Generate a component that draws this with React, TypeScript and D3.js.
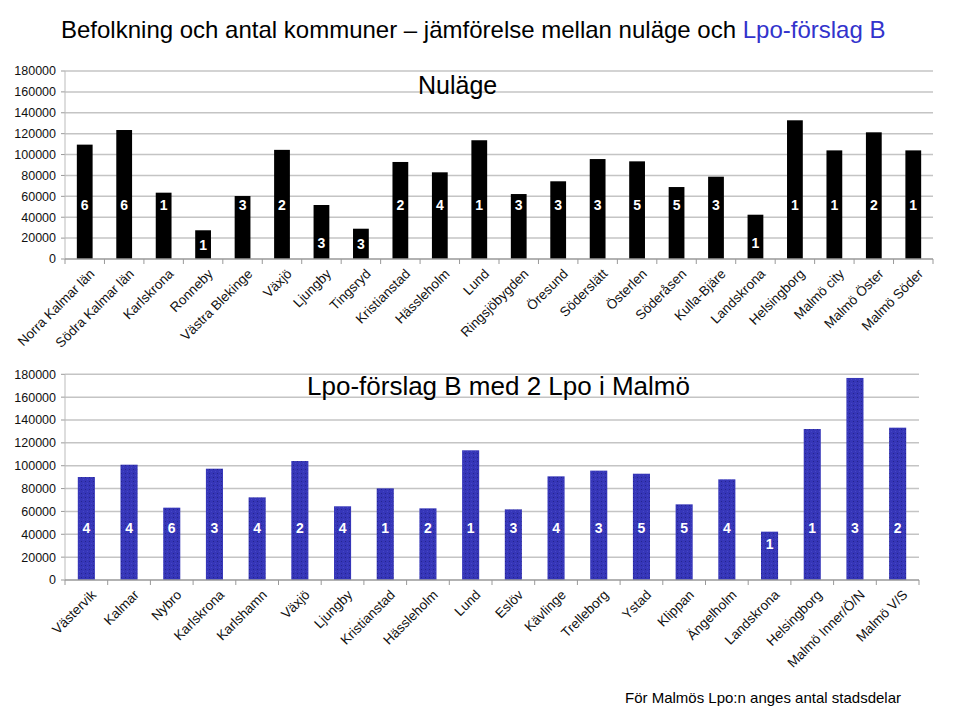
import React from "react";
import * as d3 from "d3";

const topCategories = ["Norra Kalmar län", "Södra Kalmar län", "Karlskrona", "Ronneby", "Västra Blekinge", "Växjö", "Ljungby", "Tingsryd", "Kristianstad", "Hässleholm", "Lund", "Ringsjöbygden", "Öresund", "Söderslätt", "Österlen", "Söderåsen", "Kulla-Bjäre", "Landskrona", "Helsingborg", "Malmö city", "Malmö Öster", "Malmö Söder"];
const topValues = [109500, 123500, 63500, 27500, 60300, 104500, 51700, 29000, 92900, 83000, 113700, 62200, 74400, 95700, 93500, 68900, 78800, 42400, 132800, 104000, 121300, 104000];
const topCounts = [6, 6, 1, 1, 3, 2, 3, 3, 2, 4, 1, 3, 3, 3, 5, 5, 3, 1, 1, 1, 2, 1];

const bottomCategories = ["Västervik", "Kalmar", "Nybro", "Karlskrona", "Karlshamn", "Växjö", "Ljungby", "Kristianstad", "Hässleholm", "Lund", "Eslöv", "Kävlinge", "Trelleborg", "Ystad", "Klippan", "Ängelholm", "Landskrona", "Helsingborg", "Malmö Inner/Ö/N", "Malmö V/S"];
const bottomValues = [90100, 100900, 63300, 97400, 72300, 104100, 64500, 80200, 62700, 113500, 61800, 90700, 95700, 93000, 66200, 88100, 42300, 132100, 176800, 133300];
const bottomCounts = [4, 4, 6, 3, 4, 2, 4, 1, 2, 1, 3, 4, 3, 5, 5, 4, 1, 1, 3, 2];

const yTicks = [0, 20000, 40000, 60000, 80000, 100000, 120000, 140000, 160000, 180000];

const FONT = "'Liberation Sans', Arial, sans-serif";

type PanelProps = {
  categories: string[];
  values: number[];
  counts: number[];
  x0: number;
  x1: number;
  yTop: number;
  yBottom: number;
  fill: string;
  labelValue: (v: number) => number;
};

function Panel({ categories, values, counts, x0, x1, yTop, yBottom, fill, labelValue }: PanelProps) {
  const x = d3.scaleBand<string>().domain(categories).range([x0, x1]).paddingInner(0.6).paddingOuter(0.3);
  const xb = d3.scaleBand<string>().domain(categories).range([x0, x1]).padding(0);
  const y = d3.scaleLinear().domain([0, 180000]).range([yBottom, yTop]);
  return (
    <g>
      {yTicks.map((t) => (
        <g key={t}>
          {t > 0 && (
            <line x1={x0} x2={x1} y1={y(t)} y2={y(t)} stroke="#c4c4c4" strokeWidth={1.5} />
          )}
          <line x1={x0 - 4} x2={x0} y1={y(t)} y2={y(t)} stroke="#999" strokeWidth={1} />
          <text x={x0 - 9} y={y(t)} dy="0.35em" textAnchor="end" fontSize={12.5} fill="#111" fontFamily={FONT}>
            {t}
          </text>
        </g>
      ))}
      <line x1={x0} x2={x0} y1={yTop} y2={yBottom} stroke="#bbb" strokeWidth={1} />
      {values.map((v, i) => {
        const c = categories[i];
        const bx = x(c)!;
        const bw = x.bandwidth();
        return (
          <g key={c}>
            <rect x={bx} y={y(v)} width={bw} height={yBottom - y(v)} fill={fill} />
            <text
              x={bx + bw / 2}
              y={y(labelValue(v))}
              dy="0.35em"
              textAnchor="middle"
              fontSize={14}
              fontWeight="bold"
              fill="#fff"
              fontFamily={FONT}
            >
              {counts[i]}
            </text>
          </g>
        );
      })}
      <line x1={x0} x2={x1} y1={yBottom} y2={yBottom} stroke="#999" strokeWidth={1.5} />
      {categories.map((c) => (
        <line key={"t" + c} x1={xb(c)!} x2={xb(c)!} y1={yBottom} y2={yBottom + 5} stroke="#999" strokeWidth={1} />
      ))}
      <line x1={x1} x2={x1} y1={yBottom} y2={yBottom + 5} stroke="#999" strokeWidth={1} />
      {categories.map((c) => {
        const cx = xb(c)! + xb.bandwidth() / 2;
        return (
          <text
            key={"l" + c}
            transform={`translate(${cx + 4},${yBottom + 9}) rotate(-45)`}
            textAnchor="end"
            dy="0.7em"
            fontSize={13.5}
            fill="#111"
            fontFamily={FONT}
          >
            {c}
          </text>
        );
      })}
    </g>
  );
}

export default function App() {
  return (
    <svg width={960} height={720} style={{ position: "absolute", left: 0, top: 0, background: "#fff" }}>
      <defs>
        <pattern id="dots" width={4} height={4} patternUnits="userSpaceOnUse">
          <rect width={4} height={4} fill="#3636b8" />
          <rect x={1} y={1} width={1} height={1} fill="#24248e" />
          <rect x={3} y={3} width={1} height={1} fill="#4646c6" />
        </pattern>
      </defs>
      <rect width={960} height={720} fill="#fff" />
      <text x={61} y={38} fontSize={24} fontFamily={FONT} fill="#000">
        Befolkning och antal kommuner – jämförelse mellan nuläge och{" "}
        <tspan fill="#3333cc">Lpo-förslag B</tspan>
      </text>
      <Panel
        categories={topCategories}
        values={topValues}
        counts={topCounts}
        x0={65}
        x1={933}
        yTop={71}
        yBottom={259}
        fill="#000"
        labelValue={(v) => (v > 55000 ? 51500 : Math.min(v / 2, 15000))}
      />
      <text x={418} y={94} fontSize={25} fontFamily={FONT} fill="#000">Nuläge</text>
      <Panel
        categories={bottomCategories}
        values={bottomValues}
        counts={bottomCounts}
        x0={65}
        x1={919}
        yTop={374.3}
        yBottom={580}
        fill="url(#dots)"
        labelValue={(v) => (v > 55000 ? 45500 : v - 11000)}
      />
      <text x={307} y={395} fontSize={26} fontFamily={FONT} fill="#000">Lpo-förslag B med 2 Lpo i Malmö</text>
      <text x={625} y={703} fontSize={15} fontFamily={FONT} fill="#000">För Malmös Lpo:n anges antal stadsdelar</text>
    </svg>
  );
}
